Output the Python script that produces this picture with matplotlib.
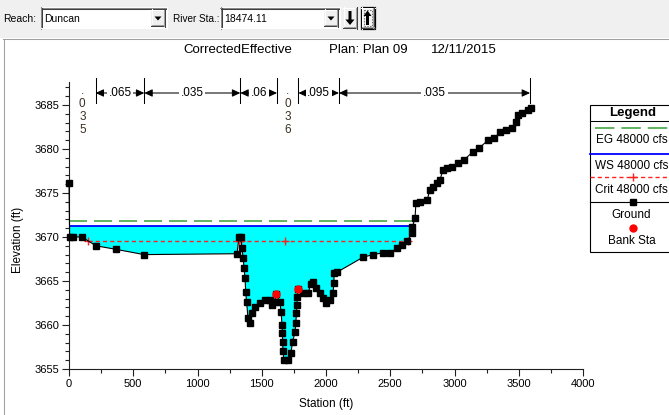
import numpy as np
import matplotlib
matplotlib.use("Agg")
import matplotlib.pyplot as plt
from matplotlib.patches import Rectangle, Polygon
from matplotlib.ticker import MultipleLocator
from matplotlib.transforms import blended_transform_factory

plt.rcParams['font.family'] = ['Liberation Sans', 'DejaVu Sans']
plt.rcParams['lines.scale_dashes'] = False

# ---------------------------------------------------------------- data
# Cross-section ground points (station ft, elevation ft)
ground_sta = [0, 5, 30, 100, 210, 365, 584, 1307, 1323, 1335, 1346, 1355,
              1362, 1370, 1375, 1382, 1393, 1408, 1425, 1447, 1486, 1525,
              1564, 1580, 1603, 1611, 1642, 1650, 1658, 1660, 1663, 1665,
              1673, 1704, 1727, 1740, 1759, 1765, 1770, 1774, 1778, 1782,
              1821, 1860, 1883, 1899, 1922, 1953, 1977, 2000, 2031, 2054,
              2062, 2062, 2086, 2288, 2366, 2444, 2498, 2553, 2591, 2630,
              2669, 2672, 2693, 2700, 2731, 2786, 2809, 2833, 2864, 2887,
              2910, 2942, 2981, 3027, 3074, 3144, 3191, 3261, 3307, 3354,
              3401, 3447, 3479, 3494, 3525, 3572, 3595]
ground_elev = [3676.1, 3670.0, 3670.0, 3670.0, 3669.0, 3668.6, 3668.0,
               3668.1, 3670.0, 3670.0, 3668.75, 3667.6, 3666.5, 3665.3,
               3663.75, 3662.6, 3660.8, 3660.2, 3661.4, 3662.0, 3662.5,
               3662.8, 3662.8, 3662.3, 3662.6, 3663.5, 3662.6, 3661.5,
               3660.0, 3659.1, 3658.1, 3657.0, 3656.0, 3656.0, 3656.8,
               3658.1, 3659.2, 3660.2, 3661.4, 3662.3, 3663.2, 3664.1,
               3663.6, 3663.6, 3664.7, 3664.9, 3664.2, 3663.6, 3663.1,
               3662.5, 3662.8, 3663.6, 3664.8, 3665.9, 3666.0, 3667.7,
               3668.0, 3668.2, 3668.2, 3668.7, 3669.1, 3669.5, 3670.4,
               3671.1, 3672.2, 3673.9, 3674.0, 3674.2, 3675.3, 3675.7,
               3676.1, 3676.5, 3677.6, 3677.8, 3678.0, 3678.4, 3678.75,
               3679.7, 3680.1, 3681.0, 3681.2, 3681.9, 3682.2, 3682.4,
               3683.1, 3683.9, 3684.1, 3684.4, 3684.7]
bank_sta = [1611, 1782]

# Profile elevations for 48000 cfs
eg_elev = 3671.85
ws_elev = 3671.25
crit_elev = 3669.6
flow_label = "48000 cfs"

# Manning's n regions
n_breaks = [0, 207, 586, 1333, 1619, 1785, 2101, 3588]
n_values = [".035", ".065", ".035", ".06", ".036", ".095", ".035"]

# Plot header
reach_name = "Duncan"
river_sta = "18474.11"
plan_parts = ["CorrectedEffective", "Plan: Plan 09", "12/11/2015"]

x_ticks = [0, 500, 1000, 1500, 2000, 2500, 3000, 3500, 4000]
y_ticks = [3655, 3660, 3665, 3670, 3675, 3680, 3685]

# ---------------------------------------------------------------- helpers
gs = np.asarray(ground_sta, float)
ge = np.asarray(ground_elev, float)


def crossings(level):
    """Stations where the ground line crosses a given elevation."""
    out = []
    for i in range(len(gs) - 1):
        a, b = ge[i] - level, ge[i + 1] - level
        if a * b < 0:
            out.append(gs[i] + (gs[i + 1] - gs[i]) * a / (a - b))
    return out


EG_C = '#5fb35f'
WS_C = '#0000ff'
CR_C = '#ff2020'

# ---------------------------------------------------------------- figure
W, H = 669, 415
fig = plt.figure(figsize=(W / 100, H / 100), dpi=100)
fig.patch.set_facecolor('white')

# pixel-space layer for the window chrome, title and legend box
px = fig.add_axes([0, 0, 1, 1], zorder=0)
px.set_xlim(0, W)
px.set_ylim(H, 0)
px.axis('off')

# toolbar strip
px.add_patch(Rectangle((0, 0), W, 38.5, facecolor='#f0f0f0', edgecolor='none'))
px.plot([3, W], [39.5, 39.5], color='#a0a0a0', lw=0.75)
px.plot([3.5, 3.5], [39.5, H], color='#a0a0a0', lw=0.75)


def sunken(x0, y0, x1, y1):
    px.add_patch(Rectangle((x0, y0), x1 - x0, y1 - y0, facecolor='white',
                           edgecolor='none'))
    px.plot([x0, x1], [y0 + 0.5, y0 + 0.5], color='#8a8a8a', lw=0.75)
    px.plot([x0 + 0.5, x0 + 0.5], [y0, y1], color='#8a8a8a', lw=0.75)
    px.plot([x0 + 1, x1 - 1], [y0 + 1.5, y0 + 1.5], color='#404040', lw=0.75)
    px.plot([x0 + 1.5, x0 + 1.5], [y0 + 1, y1 - 1], color='#404040', lw=0.75)
    px.plot([x0, x1], [y1 - 0.5, y1 - 0.5], color='#ffffff', lw=0.75)
    px.plot([x1 - 0.5, x1 - 0.5], [y0, y1], color='#ffffff', lw=0.75)


def raised(x0, y0, x1, y1, face='#f0f0f0'):
    px.add_patch(Rectangle((x0, y0), x1 - x0, y1 - y0, facecolor=face,
                           edgecolor='none'))
    px.plot([x0, x1], [y0 + 0.5, y0 + 0.5], color='white', lw=0.75)
    px.plot([x0 + 0.5, x0 + 0.5], [y0, y1], color='white', lw=0.75)
    px.plot([x0, x1], [y1 - 0.5, y1 - 0.5], color='#404040', lw=0.75)
    px.plot([x1 - 0.5, x1 - 0.5], [y0, y1], color='#404040', lw=0.75)
    px.plot([x0 + 1, x1 - 1], [y1 - 1.5, y1 - 1.5], color='#a0a0a0', lw=0.75)
    px.plot([x1 - 1.5, x1 - 1.5], [y0 + 1, y1 - 1], color='#a0a0a0', lw=0.75)


def combo(x0, x1, text):
    sunken(x0, 7.5, x1, 29)
    raised(x1 - 16, 9.5, x1 - 2, 27)
    cx = x1 - 9
    px.add_patch(Polygon([[cx - 3.5, 16.5], [cx + 3.5, 16.5], [cx, 20.5]],
                         closed=True, facecolor='black', edgecolor='none'))
    px.text(x0 + 4, 18.5, text, fontsize=7.5, va='center', ha='left')


px.text(3.5, 18.5, "Reach:", fontsize=7.5, va='center', ha='left')
combo(40.5, 167, reach_name)
px.text(173, 18.5, "River Sta.:", fontsize=7.2, va='center', ha='left')
combo(220, 340, river_sta)

# down / up navigation buttons
raised(343, 7.5, 357, 29)
px.add_patch(Polygon([[348.5, 11], [351.5, 11], [351.5, 19.5], [354.5, 19.5],
                      [350, 25], [345.5, 19.5], [348.5, 19.5]], closed=True,
                     facecolor='black', edgecolor='none'))
raised(361, 7.5, 374.5, 29)
px.add_patch(Rectangle((361, 7.5), 13.5, 21.5, facecolor='none',
                       edgecolor='black', lw=0.9))
px.add_patch(Rectangle((363.5, 10), 8.5, 16.5, facecolor='none',
                       edgecolor='#555555', lw=0.6, linestyle=(0, (1, 1))))
px.add_patch(Polygon([[366, 25], [369, 25], [369, 16], [371.5, 16],
                      [367.5, 10.5], [363.5, 16], [366, 16]], closed=True,
                     facecolor='black', edgecolor='none'))

# title line
for xpos, part in zip([183.5, 329, 431], plan_parts):
    px.text(xpos, 50, part, fontsize=9.5, ha='left', va='center')

# ---------------------------------------------------------------- axes
L, R, B, T = 69, 583, 369, 82
ax = fig.add_axes([L / W, 1 - B / H, (R - L) / W, (B - T) / H], zorder=1)
ax.patch.set_alpha(0)
ax.set_xlim(0, 4000)
ax.set_ylim(3655, 3655 + (B - T) / 8.8)
for s in ('top', 'right'):
    ax.spines[s].set_visible(False)
for s in ('left', 'bottom'):
    ax.spines[s].set_color('#202020')
    ax.spines[s].set_linewidth(0.8)

ax.set_xticks(x_ticks)
ax.set_yticks(y_ticks)
ax.xaxis.set_minor_locator(MultipleLocator(250))
ax.yaxis.set_minor_locator(MultipleLocator(1))
ax.tick_params(which='major', direction='out', length=5, width=0.8,
               labelsize=8, pad=2, color='#202020')
ax.tick_params(which='minor', direction='out', length=3, width=0.8,
               color='#202020')

# water area below the water surface
ax.fill_between(gs, ge, ws_elev, where=ge <= ws_elev, interpolate=True,
                facecolor='#00ffff', edgecolor='none', zorder=1)

# energy grade, water surface and critical depth lines
eg_x = crossings(eg_elev)
ws_x = crossings(ws_elev)
cr_x = crossings(crit_elev)
ax.plot([eg_x[0], eg_x[-1]], [eg_elev, eg_elev], color=EG_C, lw=1.4,
        dashes=(13, 5), zorder=2)
ax.plot([ws_x[0], ws_x[-1]], [ws_elev, ws_elev], color=WS_C, lw=1.3, zorder=2)
ax.plot([cr_x[0], cr_x[-1]], [crit_elev, crit_elev], color=CR_C, lw=1.0,
        dashes=(3, 2.2), zorder=2)
crit_marks = cr_x + [0.5 * (bank_sta[0] + bank_sta[1]) - 15]
ax.plot(crit_marks, [crit_elev] * len(crit_marks), linestyle='none',
        marker='+', ms=6, mew=1.0, color=CR_C, zorder=3)

# ground profile
ax.plot(gs, ge, color='black', lw=0.8, marker='s', ms=4.7, mfc='black',
        mec='black', zorder=4, clip_on=False)
ax.plot(bank_sta, np.interp(bank_sta, gs, ge), linestyle='none', marker='o',
        ms=5.0, color='red', mec='red', zorder=5)

# Manning's n annotations along the top
trans = blended_transform_factory(ax.transData, px.transData)
y_arrow = 93
for xb in n_breaks[1:]:
    ax.plot([xb, xb], [78, 103], color='black', lw=0.75, transform=trans,
            clip_on=False, zorder=6)
for a, b, n in zip(n_breaks[:-1], n_breaks[1:], n_values):
    mid = 0.5 * (a + b)
    if b - a < 250:
        ax.text(mid, 85, "\n".join(n), transform=trans, ha='center',
                va='top', fontsize=8.5, linespacing=1.12, color='#3a3020',
                clip_on=False)
    else:
        ax.annotate('', xy=(b, y_arrow), xycoords=trans,
                    xytext=(a, y_arrow), textcoords=trans,
                    arrowprops=dict(arrowstyle='<|-|>,head_length=0.6,head_width=0.28',
                                    mutation_scale=8, lw=0.75, color='black',
                                    shrinkA=0, shrinkB=0),
                    annotation_clip=False)
        ax.text(mid, y_arrow, n, transform=trans, ha='center', va='center',
                fontsize=8.5, zorder=7, clip_on=False,
                bbox=dict(facecolor='white', edgecolor='none', pad=1.2))

# axis titles
px.text(18, 240, "Elevation (ft)", rotation=90, fontsize=8.5, ha='center',
        va='center')
px.text(326, 404, "Station (ft)", fontsize=8.5, ha='center', va='center')

# ---------------------------------------------------------------- legend box
lx0, ly0, ly1 = 589.5, 104.5, 252
lcx = 631.5
px.add_patch(Rectangle((lx0, ly0), 100, ly1 - ly0, facecolor='white',
                       edgecolor='black', lw=0.8))
px.text(lcx + 1, 112.5, "Legend", fontsize=9.5, fontweight='bold',
        ha='center', va='center')
px.plot([lx0, W], [121.5, 121.5], color='black', lw=0.75)

LF = 8.5
px.plot([595, W], [128, 128], color=EG_C, lw=1.4, dashes=(14, 5))
px.text(lcx, 140, "EG " + flow_label, fontsize=LF, ha='center', va='center')
px.plot([lx0, W], [154, 154], color=WS_C, lw=1.3)
px.text(lcx, 166, "WS " + flow_label, fontsize=LF, ha='center', va='center')
px.plot([lx0, W], [177.5, 177.5], color=CR_C, lw=1.0, dashes=(3, 2.2))
px.plot([lcx + 1], [177.5], marker='+', ms=6, mew=1.0, color=CR_C)
px.text(lcx, 190, "Crit " + flow_label, fontsize=LF, ha='center', va='center')
px.plot([lx0, W], [202, 202], color='black', lw=0.8)
px.plot([lcx + 1], [202], marker='s', ms=4.3, color='black')
px.text(lcx, 215, "Ground", fontsize=LF, ha='center', va='center')
px.plot([lcx + 1], [228], marker='o', ms=5.0, color='red')
px.text(lcx, 241, "Bank Sta", fontsize=LF, ha='center', va='center')

fig.savefig("out.png", dpi=100)
